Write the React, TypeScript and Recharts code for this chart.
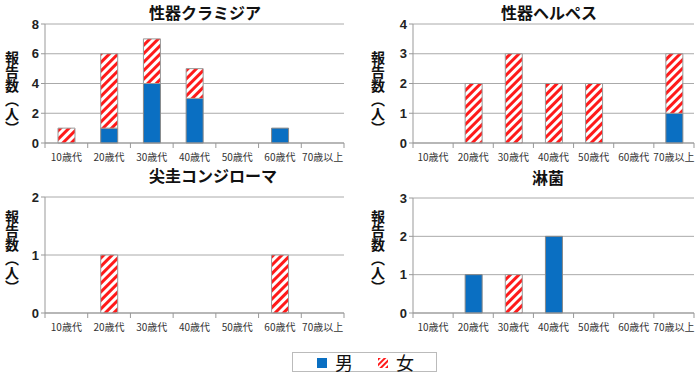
import React from "react";
import { BarChart, Bar, XAxis, YAxis, CartesianGrid } from "recharts";

const AGES = ["10歳代", "20歳代", "30歳代", "40歳代", "50歳代", "60歳代", "70歳以上"];

const CHLAMYDIA_MALE = [0, 1, 4, 3, 0, 1, 0];
const CHLAMYDIA_FEMALE = [1, 5, 3, 2, 0, 0, 0];
const HERPES_MALE = [0, 0, 0, 0, 0, 0, 1];
const HERPES_FEMALE = [0, 2, 3, 2, 2, 0, 2];
const CONDYLOMA_MALE = [0, 0, 0, 0, 0, 0, 0];
const CONDYLOMA_FEMALE = [0, 1, 0, 0, 0, 1, 0];
const GONORRHEA_MALE = [0, 1, 0, 2, 0, 0, 0];
const GONORRHEA_FEMALE = [0, 0, 1, 0, 0, 0, 0];

const CHLAMYDIA_TICKS = [0, 2, 4, 6, 8];
const HERPES_TICKS = [0, 1, 2, 3, 4];
const CONDYLOMA_TICKS = [0, 1, 2];
const GONORRHEA_TICKS = [0, 1, 2, 3];

const Y_LABEL = "報告数（人）";

const BLUE = "#0a6fc2";
const RED = "#ff1a1a";
const FONT = '"Noto Sans CJK JP", "Noto Sans", sans-serif';

const rows = (male: number[], female: number[]) =>
  AGES.map((age, i) => ({ age, male: male[i], female: female[i] }));

function AgeTick(props: any) {
  const { x, y, payload, index, width } = props;
  const half = payload?.offset ?? width / AGES.length / 2;
  const last = index === AGES.length - 1;
  return (
    <g>
      <line x1={x - half} y1={y} x2={x - half} y2={y + 5} stroke="#999" />
      {last && <line x1={x + half} y1={y} x2={x + half} y2={y + 5} stroke="#999" />}
      <text x={x} y={y + 18} textAnchor="middle" fontSize={10} fill="#333" fontFamily={FONT}>
        {payload.value}
      </text>
    </g>
  );
}

type PanelProps = {
  id: string;
  title: string;
  male: number[];
  female: number[];
  ticks: number[];
  left: number;
  top: number;
  marginTop: number;
  axisWidth: number;
  titleX: number;
  titleY: number;
  labelX: number;
  labelY: number;
};

function Panel(p: PanelProps) {
  const data = rows(p.male, p.female);
  const max = p.ticks[p.ticks.length - 1];
  return (
    <div style={{ position: "absolute", left: p.left, top: p.top, width: 350, height: 170 }}>
      <div
        style={{
          position: "absolute",
          left: p.titleX - 100,
          top: p.titleY,
          width: 200,
          textAlign: "center",
          fontSize: 16,
          fontWeight: "bold",
          lineHeight: "18px",
          fontFamily: FONT,
          color: "#111",
        }}
      >
        {p.title}
      </div>
      <div
        style={{
          position: "absolute",
          left: p.labelX,
          top: p.labelY,
          writingMode: "vertical-rl",
          fontSize: 14,
          fontWeight: "bold",
          lineHeight: "16px",
          fontFamily: FONT,
          color: "#111",
        }}
      >
        {Y_LABEL}
      </div>
      <BarChart
        width={350}
        height={170}
        data={data}
        margin={{ top: p.marginTop, right: 6, bottom: 0, left: 0 }}
        barSize={17}
        style={{ position: "absolute", left: 0, top: 0 }}
      >
        <defs>
          <pattern id={p.id} width={6} height={6} patternUnits="userSpaceOnUse" patternTransform="rotate(45)">
            <rect width={6} height={6} fill="#fff" />
            <rect width={3} height={6} fill={RED} />
          </pattern>
        </defs>
        <CartesianGrid vertical={false} stroke="#aaa" />
        <XAxis
          dataKey="age"
          height={27}
          tickLine={false}
          tickSize={0}
          tickMargin={0}
          axisLine={{ stroke: "#999" }}
          tick={<AgeTick />}
          interval={0}
        />
        <YAxis
          width={p.axisWidth}
          domain={[0, max]}
          ticks={p.ticks}
          allowDecimals={false}
          axisLine={{ stroke: "#999" }}
          tickLine={{ stroke: "#999" }}
          tickSize={4}
          tick={{ fontSize: 13, fill: "#222", fontFamily: '"Liberation Sans", Arial, sans-serif', fontWeight: "bold" }}
        />
        <Bar dataKey="male" stackId="a" fill={BLUE} stroke="#888" strokeWidth={1} isAnimationActive={false} />
        <Bar dataKey="female" stackId="a" fill={`url(#${p.id})`} stroke="#999" strokeWidth={1} isAnimationActive={false} />
      </BarChart>
    </div>
  );
}

export default function App() {
  return (
    <div style={{ position: "absolute", left: 0, top: 0, width: 700, height: 376, background: "#fff", fontFamily: FONT }}>
      <Panel id="h1" title="性器クラミジア" male={CHLAMYDIA_MALE} female={CHLAMYDIA_FEMALE} ticks={CHLAMYDIA_TICKS}
        left={0} top={0} marginTop={24} axisWidth={45} titleX={205} titleY={3} labelX={4} labelY={51} />
      <Panel id="h2" title="性器ヘルペス" male={HERPES_MALE} female={HERPES_FEMALE} ticks={HERPES_TICKS}
        left={350} top={0} marginTop={24} axisWidth={63} titleX={199} titleY={3} labelX={20} labelY={51} />
      <Panel id="h3" title="尖圭コンジローマ" male={CONDYLOMA_MALE} female={CONDYLOMA_FEMALE} ticks={CONDYLOMA_TICKS}
        left={0} top={170} marginTop={27} axisWidth={45} titleX={213} titleY={-4} labelX={4} labelY={40} />
      <Panel id="h4" title="淋菌" male={GONORRHEA_MALE} female={GONORRHEA_FEMALE} ticks={GONORRHEA_TICKS}
        left={350} top={170} marginTop={28} axisWidth={63} titleX={198} titleY={-2} labelX={20} labelY={40} />
      <div
        style={{
          position: "absolute",
          left: 292,
          top: 352,
          width: 145,
          height: 20,
          border: "1px solid #bbb",
          boxSizing: "border-box",
          fontSize: 18,
          lineHeight: "18px",
          color: "#111",
        }}
      >
        <span style={{ position: "absolute", left: 24, top: 5, width: 10, height: 10, background: BLUE }} />
        <span style={{ position: "absolute", left: 42, top: 0 }}>男</span>
        <svg style={{ position: "absolute", left: 85, top: 5 }} width={10} height={10}>
          <defs>
            <pattern id="lg" width={4} height={4} patternUnits="userSpaceOnUse" patternTransform="rotate(45)">
              <rect width={4} height={4} fill="#fff" />
              <rect width={2} height={4} fill={RED} />
            </pattern>
          </defs>
          <rect width={10} height={10} fill="url(#lg)" />
        </svg>
        <span style={{ position: "absolute", left: 103, top: 0 }}>女</span>
      </div>
    </div>
  );
}
